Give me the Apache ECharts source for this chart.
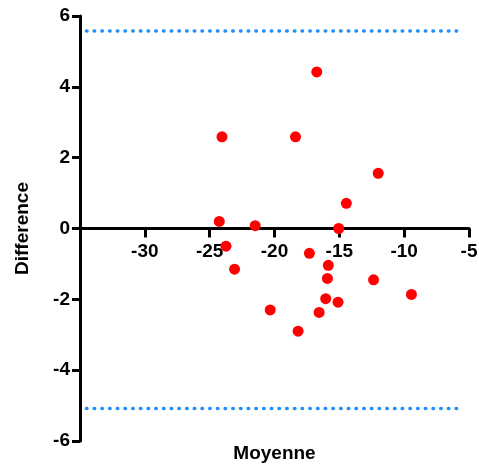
<!DOCTYPE html>
<html><head><meta charset="utf-8">
<script src="https://cdn.jsdelivr.net/npm/echarts@6/dist/echarts.min.js"></script>
<style>html,body{margin:0;padding:0;background:#fff}#c{width:479px;height:466px}</style>
</head><body><div id="c"></div>
<script>
// Data
const moyenne = [-24.05, -24.26, -16.74, -18.38, -12.0, -14.46, -21.49, -15.05, -23.74, -23.08, -17.31, -15.85, -15.92, -12.36, -9.44, -16.05, -15.10, -20.33, -16.56, -18.18];
const difference = [2.59, 0.20, 4.42, 2.59, 1.56, 0.71, 0.08, 0.0, -0.50, -1.15, -0.70, -1.04, -1.41, -1.45, -1.86, -1.98, -2.08, -2.30, -2.37, -2.90];
const upperLimit = 5.58;
const lowerLimit = -5.08;
const limitX = [-34.5, -5.5];
const xTicks = [-35, -30, -25, -20, -15, -10, -5];
const yTicks = [-6, -4, -2, 0, 2, 4, 6];

const font = 'Liberation Sans, Arial, Helvetica, sans-serif';
const chart = echarts.init(document.getElementById('c'), null, {renderer: 'canvas'});
const pts = moyenne.map((x, i) => [x, difference[i]]);
const limitLine = v => limitX.map(x => [x, v]);
const dotted = {color: '#1E8FFF', width: 3.5, type: [0.5, 7.2], cap: 'round'};
const gridTop = 16, gridBottom = 25, H = 466;
const zeroOffset = -(H - gridTop - gridBottom) / 2;

chart.setOption({
  animation: false,
  grid: {left: 80, right: 10, top: gridTop, bottom: gridBottom, containLabel: false, outerBoundsMode: 'none'},
  xAxis: [{
    type: 'value', min: xTicks[0], max: xTicks[xTicks.length - 1], interval: 5,
    position: 'bottom', offset: zeroOffset,
    axisLine: {onZero: false, lineStyle: {color: '#000', width: 3}},
    axisTick: {show: true, length: 9, lineStyle: {color: '#000', width: 3}},
    axisLabel: {showMinLabel: false, color: '#000', fontFamily: font, fontWeight: 'bold', fontSize: 19, margin: 14},
    splitLine: {show: false}
  }, {
    type: 'value', min: xTicks[0], max: xTicks[xTicks.length - 1], position: 'bottom',
    axisLine: {show: false, onZero: false}, axisTick: {show: false}, axisLabel: {show: false}, splitLine: {show: false},
    name: 'Moyenne', nameLocation: 'middle', nameGap: 3,
    nameTextStyle: {color: '#000', fontFamily: font, fontWeight: 'bold', fontSize: 19}
  }],
  yAxis: {
    type: 'value', min: yTicks[0], max: yTicks[yTicks.length - 1], interval: 2,
    axisLine: {onZero: false, lineStyle: {color: '#000', width: 3}},
    axisTick: {show: true, length: 8, lineStyle: {color: '#000', width: 3}},
    axisLabel: {color: '#000', fontFamily: font, fontWeight: 'bold', fontSize: 19, margin: 10},
    splitLine: {show: false},
    name: 'Difference', nameLocation: 'middle', nameGap: 48,
    nameTextStyle: {color: '#000', fontFamily: font, fontWeight: 'bold', fontSize: 19}
  },
  series: [
    {type: 'line', xAxisIndex: 0, data: limitLine(upperLimit), symbol: 'none', lineStyle: dotted, silent: true, z: 1},
    {type: 'line', xAxisIndex: 0, data: limitLine(lowerLimit), symbol: 'none', lineStyle: dotted, silent: true, z: 1},
    {type: 'scatter', xAxisIndex: 0, data: pts, symbol: 'circle', symbolSize: 11, itemStyle: {color: '#FF0000', opacity: 1}, z: 3}
  ]
});
</script></body></html>
